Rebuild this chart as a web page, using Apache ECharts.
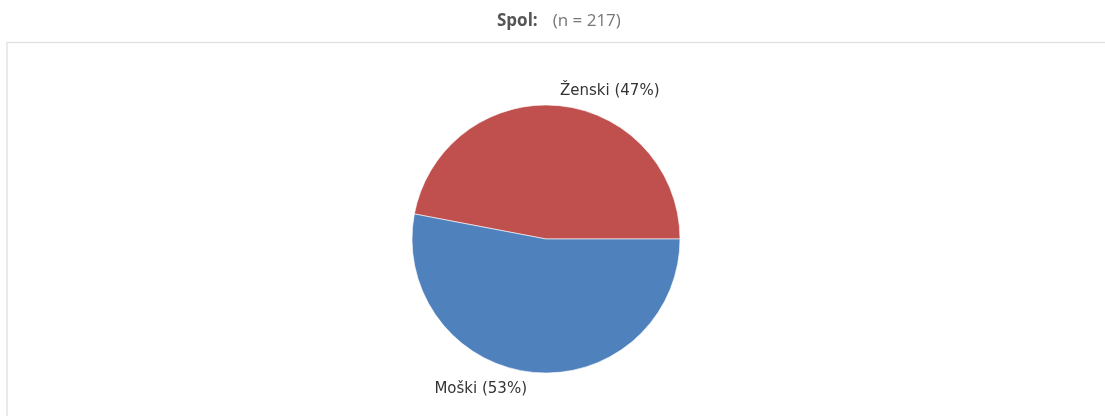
<!DOCTYPE html>
<html>
<head>
<meta charset="utf-8">
<style>
  html, body { margin: 0; padding: 0; background: #fff; }
  #main { width: 1105px; height: 416px; }
</style>
<script src="https://cdn.jsdelivr.net/npm/echarts@6/dist/echarts.min.js"></script>
</head>
<body>
<div id="main"></div>
<script>
// podatki
const categories = ['Ženski', 'Moški'];
const counts = [102, 115];
const percents = [47, 53];
const total = 217;

const chart = echarts.init(document.getElementById('main'), null, { renderer: 'canvas' });

const option = {
  animation: false,
  title: {
    text: '{b|Spol:}   {n|(n = ' + total + ')}',
    left: 492,
    top: 7,
    textStyle: {
      rich: {
        b: { fontFamily: 'Open Sans', fontWeight: 'bold', fontSize: 17, color: '#555' },
        n: { fontFamily: 'Open Sans', fontWeight: 'normal', fontSize: 17, color: '#777' }
      }
    }
  },
  graphic: [
    {
      type: 'polyline',
      shape: { points: [[7, 416], [7, 42.5], [1105, 42.5]] },
      style: { stroke: '#e3e3e3', lineWidth: 1.5, fill: null }
    }
  ],
  series: [
    {
      type: 'pie',
      center: [546, 239],
      radius: 134,
      startAngle: 0,
      clockwise: false,
      data: categories.map((c, i) => ({ name: c, value: counts[i] })),
      color: ['#c0504d', '#4f81bd'],
      itemStyle: { borderColor: '#fff', borderWidth: 0.6 },
      label: {
        show: true,
        position: 'outside',
        formatter: p => p.name + ' (' + percents[p.dataIndex] + '%)',
        fontFamily: 'DejaVu Sans',
        fontSize: 15,
        color: '#333'
      },
      labelLine: { show: false },
      labelLayout: p => (p.dataIndex === 0 ? { dx: -35, dy: 0 } : { dx: 30, dy: 2 }),
      emphasis: { disabled: true }
    }
  ]
};

chart.setOption(option);
</script>
</body>
</html>
